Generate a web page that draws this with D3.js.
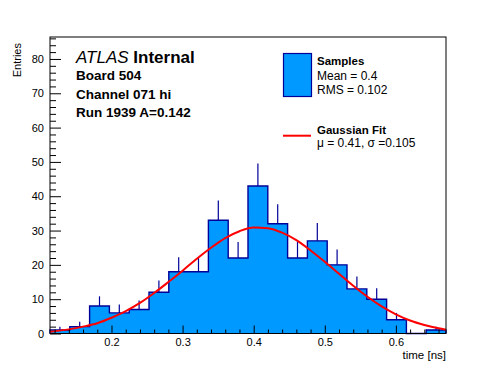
<!DOCTYPE html>
<html><head><meta charset="utf-8">
<script src="https://cdn.jsdelivr.net/npm/d3@7"></script>
<style>
html,body{margin:0;padding:0;background:#fff;}
text{font-family:"Liberation Sans",Arial,Helvetica,sans-serif;}
</style></head>
<body><svg id="c" width="496" height="372"></svg>
<script>
// ---- data ----
const xMin = 0.1135, xMax = 0.6705;
const counts = [1, 2, 8, 6, 7, 12, 18, 18, 33, 22, 43, 32, 22, 27, 20, 13, 10, 4, 0, 1];
const fitX = [0.1135, 0.14, 0.16, 0.18, 0.20, 0.22, 0.24, 0.26, 0.28, 0.30, 0.32, 0.34, 0.36, 0.38, 0.40, 0.42, 0.44, 0.46, 0.48, 0.50, 0.52, 0.54, 0.56, 0.58, 0.60, 0.62, 0.64, 0.66, 0.6705];
const fitY = [0.5, 1.2, 2.0, 3.0, 4.6, 6.5, 8.9, 11.8, 15.0, 18.3, 21.8, 25.0, 27.8, 29.8, 30.9, 30.7, 29.4, 27.2, 24.2, 20.9, 17.4, 13.9, 10.7, 7.9, 5.6, 3.8, 2.5, 1.5, 1.1];
const xTickLabels = [0.2, 0.3, 0.4, 0.5, 0.6];
const yTickLabels = [0, 10, 20, 30, 40, 50, 60, 70, 80];
const yMax = 86.4;
const infoLines = ["Board 504", "Channel 071 hi", "Run 1939 A=0.142"];
const legendSamples = ["Samples", "Mean = 0.4", "RMS = 0.102"];
const legendFit = ["Gaussian Fit", "\u03bc = 0.41, \u03c3 =0.105"];

// ---- layout ----
const L = 50, R = 446, T = 37, B = 333.5;
const fillC = "#0099ff", lineC = "#000099";
const svg = d3.select("#c");
svg.append("rect").attr("width", 496).attr("height", 372).attr("fill", "#fff");

const x = d3.scaleLinear().domain([xMin, xMax]).range([L, R]);
const y = d3.scaleLinear().domain([0, yMax]).range([B, T]);

const nb = counts.length, bw = (xMax - xMin) / nb;
const bins = counts.map((c, i) => ({x0: xMin + i * bw, x1: xMin + (i + 1) * bw, c}));

// histogram fill
const stepPts = [];
bins.forEach(b => { stepPts.push([b.x0, b.c]); stepPts.push([b.x1, b.c]); });
const area = d3.area().x(d => x(d[0])).y0(y(0)).y1(d => y(d[1]));
svg.append("path").datum(stepPts).attr("d", area).attr("fill", fillC);

// histogram outline
const outline = [[xMin, 0]].concat(stepPts).concat([[xMax, 0]]);
svg.append("path").datum(outline)
  .attr("d", d3.line().x(d => x(d[0])).y(d => y(d[1])))
  .attr("fill", "none").attr("stroke", lineC).attr("stroke-width", 1.4);

// error bars (upper part)
svg.append("g").selectAll("line").data(bins.filter(b => b.c > 0)).join("line")
  .attr("x1", b => x((b.x0 + b.x1) / 2)).attr("x2", b => x((b.x0 + b.x1) / 2))
  .attr("y1", b => y(b.c)).attr("y2", b => y(b.c + Math.sqrt(b.c)))
  .attr("stroke", lineC).attr("stroke-width", 1.2);

// fit curve
svg.append("path").datum(fitX.map((v, i) => [v, fitY[i]]))
  .attr("d", d3.line().x(d => x(d[0])).y(d => y(d[1])).curve(d3.curveMonotoneX))
  .attr("fill", "none").attr("stroke", "#ff0000").attr("stroke-width", 2);

// axes
const xMinor = d3.range(0.12, xMax, 0.02).filter(v => !xTickLabels.some(t => Math.abs(t - v) < 1e-6));
const gx = svg.append("g").attr("transform", `translate(0,${B})`)
  .call(d3.axisBottom(x).tickValues(xTickLabels).tickSize(-8).tickPadding(5).tickFormat(d3.format(".1f")));
gx.select(".domain").remove();
gx.selectAll("text").attr("font-size", 11).attr("fill", "#000").attr("font-family", "Liberation Sans, Arial, sans-serif");
gx.selectAll("line").attr("stroke", "#000");
svg.append("g").attr("transform", `translate(0,${B})`)
  .call(d3.axisBottom(x).tickValues(xMinor).tickSize(-4).tickFormat(""))
  .call(g => g.select(".domain").remove()).selectAll("line").attr("stroke", "#000");

const yMinor = d3.range(2, yMax, 2).filter(v => v % 10 !== 0);
const gy = svg.append("g").attr("transform", `translate(${L},0)`)
  .call(d3.axisLeft(y).tickValues(yTickLabels).tickSize(-11).tickPadding(6));
gy.select(".domain").remove();
gy.selectAll("text").attr("font-size", 11).attr("fill", "#000").attr("font-family", "Liberation Sans, Arial, sans-serif");
gy.selectAll("line").attr("stroke", "#000");
svg.append("g").attr("transform", `translate(${L},0)`)
  .call(d3.axisLeft(y).tickValues(yMinor).tickSize(-6).tickFormat(""))
  .call(g => g.select(".domain").remove()).selectAll("line").attr("stroke", "#000");

// frame
svg.append("rect").attr("x", L).attr("y", T).attr("width", R - L).attr("height", B - T)
  .attr("fill", "none").attr("stroke", "#000").attr("stroke-width", 1);

// axis titles
svg.append("text").attr("x", R).attr("y", 359).attr("text-anchor", "end")
  .attr("font-size", 11.5).text("time [ns]");
svg.append("text").attr("transform", `translate(21,${T + 6}) rotate(-90)`).attr("text-anchor", "end")
  .attr("font-size", 11).text("Entries");

// ATLAS label
const at = svg.append("text").attr("x", 76).attr("y", 63).attr("font-size", 17);
at.append("tspan").attr("font-style", "italic").text("ATLAS");
at.append("tspan").attr("font-weight", "bold").text(" Internal");
svg.append("g").selectAll("text").data(infoLines).join("text")
  .attr("x", 76).attr("y", (d, i) => 80 + i * 18.5)
  .attr("font-size", 13.5).attr("font-weight", "bold").text(d => d);

// legend
svg.append("rect").attr("x", 283.5).attr("y", 53.5).attr("width", 28).attr("height", 43)
  .attr("fill", fillC).attr("stroke", lineC).attr("stroke-width", 1.2);
svg.append("g").selectAll("text").data(legendSamples).join("text")
  .attr("x", 317).attr("y", (d, i) => i === 0 ? 65 : 66 + i * 14)
  .attr("font-weight", (d, i) => i === 0 ? "bold" : "normal")
  .attr("font-size", (d, i) => i === 0 ? 11.5 : 12).text(d => d);
svg.append("line").attr("x1", 283).attr("x2", 311).attr("y1", 135.7).attr("y2", 135.7)
  .attr("stroke", "#ff0000").attr("stroke-width", 2);
svg.append("g").selectAll("text").data(legendFit).join("text")
  .attr("x", 317).attr("y", (d, i) => 133.5 + i * 13)
  .attr("font-weight", (d, i) => i === 0 ? "bold" : "normal")
  .attr("font-size", (d, i) => i === 0 ? 11.5 : 12).text(d => d);
</script></body></html>
